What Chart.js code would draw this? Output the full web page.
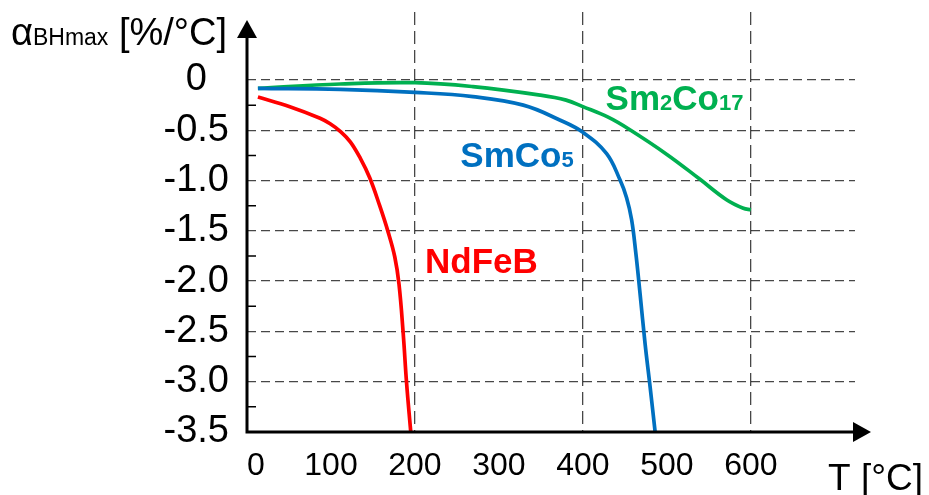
<!DOCTYPE html>
<html>
<head>
<meta charset="utf-8">
<script src="https://cdn.jsdelivr.net/npm/chart.js@4.4.0/dist/chart.umd.min.js"></script>
<style>
  html, body { margin: 0; padding: 0; background: #fff; }
</style>
</head>
<body>
<canvas id="alphaChart" width="929" height="495"></canvas>
<script>
// Temperature coefficient of (BH)max vs temperature
const ndfebT     = [13, 51, 87, 99, 111, 123, 135, 146, 158, 168, 176, 181, 186, 190, 195];
const ndfebAlpha = [-0.17, -0.265, -0.38, -0.435, -0.51, -0.615, -0.78, -0.97, -1.25, -1.51, -1.76, -2.03, -2.52, -3.01, -3.5];

const smco5T     = [13, 111, 200, 269, 329, 373, 400, 428, 444, 452, 458, 463, 468, 474, 480, 486];
const smco5Alpha = [-0.083, -0.093, -0.123, -0.165, -0.25, -0.40, -0.52, -0.73, -0.99, -1.17, -1.39, -1.72, -2.12, -2.62, -3.05, -3.5];

const sm2co17T     = [13, 111, 200, 269, 349, 380, 400, 430, 455, 500, 539, 571, 591, 600];
const sm2co17Alpha = [-0.083, -0.04, -0.027, -0.066, -0.15, -0.20, -0.265, -0.37, -0.49, -0.74, -0.985, -1.19, -1.275, -1.29];

const xGridAt = [200, 400, 600];
const yMinorTicks = [-0.25, -0.75, -1.25, -1.75, -2.25, -2.75, -3.25];
const yMin = -3.5;
const yMax = 0.676;
const xMax = 724;

const gridColor = 'rgba(0,0,0,0.72)';
const FONT = '"Liberation Sans", Arial, sans-serif';

function toPoints(xs, ys) {
  return xs.map((x, i) => ({ x: x, y: ys[i] }));
}

// text with subscript parts, e.g. Sm2Co17
function drawParts(ctx, parts, x, y, color) {
  ctx.fillStyle = color;
  ctx.textBaseline = 'alphabetic';
  ctx.textAlign = 'left';
  parts.forEach(p => {
    ctx.font = p.font;
    ctx.fillText(p.t, x, y);
    x += ctx.measureText(p.t).width;
  });
}

const decorations = {
  id: 'decorations',
  afterDatasetsDraw(chart) {
    const ctx = chart.ctx;
    const xs = chart.scales.x, ys = chart.scales.y;
    const big = 'bold 35px ' + FONT, small = 'bold 22px ' + FONT;
    ctx.save();
    drawParts(ctx, [{ t: 'NdFeB', font: big }],
      xs.getPixelForValue(212), ys.getPixelForValue(-1.92), '#ff0000');
    drawParts(ctx, [{ t: 'SmCo', font: big }, { t: '5', font: small }],
      xs.getPixelForValue(254), ys.getPixelForValue(-0.865), '#0070c0');
    drawParts(ctx, [{ t: 'Sm', font: big }, { t: '2', font: small }, { t: 'Co', font: big }, { t: '17', font: small }],
      xs.getPixelForValue(427), ys.getPixelForValue(-0.298), '#00b050');
    ctx.restore();
  },
  afterDraw(chart) {
    const ctx = chart.ctx;
    const area = chart.chartArea;
    const xs = chart.scales.x, ys = chart.scales.y;
    const x0 = xs.getPixelForValue(0);
    const yB = ys.getPixelForValue(yMin);
    ctx.save();
    ctx.strokeStyle = '#000';
    ctx.fillStyle = '#000';
    ctx.lineWidth = 3;

    // axes with arrow heads
    const yTip = area.top + 8, xTip = area.right + 16;
    ctx.beginPath();
    ctx.moveTo(x0, yB + 1.5);
    ctx.lineTo(x0, yTip + 16);
    ctx.moveTo(x0 - 1.5, yB);
    ctx.lineTo(xTip - 16, yB);
    ctx.stroke();
    ctx.beginPath();
    ctx.moveTo(x0, yTip);
    ctx.lineTo(x0 - 10, yTip + 18);
    ctx.lineTo(x0 + 10, yTip + 18);
    ctx.closePath();
    ctx.fill();
    ctx.beginPath();
    ctx.moveTo(xTip, yB);
    ctx.lineTo(xTip - 18, yB - 10);
    ctx.lineTo(xTip - 18, yB + 10);
    ctx.closePath();
    ctx.fill();

    // short inward minor ticks on the y axis
    ctx.lineWidth = 1.5;
    ctx.beginPath();
    yMinorTicks.forEach(v => {
      const p = ys.getPixelForValue(v);
      ctx.moveTo(x0, p);
      ctx.lineTo(x0 + 9, p);
    });
    ctx.stroke();

    // axis titles
    drawParts(ctx, [
      { t: 'α', font: '38px ' + FONT },
      { t: 'BHmax', font: '23px ' + FONT },
      { t: ' [%/°C]', font: '38px ' + FONT }
    ], 11, 45, '#000');
    drawParts(ctx, [{ t: 'T [°C]', font: '37px ' + FONT }], 828, 490, '#000');
    ctx.restore();
  }
};

const lineStyle = {
  borderWidth: 3.7,
  pointRadius: 0,
  fill: false,
  tension: 0.4
};

new Chart(document.getElementById('alphaChart').getContext('2d'), {
  type: 'line',
  data: {
    datasets: [
      Object.assign({ label: 'NdFeB', data: toPoints(ndfebT, ndfebAlpha), borderColor: '#ff0000' }, lineStyle),
      Object.assign({ label: 'SmCo5', data: toPoints(smco5T, smco5Alpha), borderColor: '#0070c0' }, lineStyle),
      Object.assign({ label: 'Sm2Co17', data: toPoints(sm2co17T, sm2co17Alpha), borderColor: '#00b050' }, lineStyle)
    ]
  },
  options: {
    responsive: false,
    animation: false,
    devicePixelRatio: 1,
    layout: { padding: { top: 12, right: 74, left: 0, bottom: 0 } },
    plugins: {
      legend: { display: false },
      tooltip: { enabled: false }
    },
    scales: {
      x: {
        type: 'linear',
        min: 0,
        max: xMax,
        afterFit: function(scale) {
          scale.height = 63;
          scale.paddingLeft = 0;
          scale.paddingRight = 0;
        },
        border: { display: false, dash: [13, 6] },
        grid: {
          drawTicks: false,
          lineWidth: 1.3,
          color: ctx => xGridAt.includes(ctx.tick.value) ? gridColor : 'transparent'
        },
        ticks: {
          stepSize: 100,
          autoSkip: false,
          maxRotation: 0,
          padding: 15,
          color: '#000',
          font: { family: FONT, size: 32 },
          callback: v => v > 600 ? '' : (v === 0 ? '  0' : String(v))
        }
      },
      y: {
        type: 'linear',
        min: yMin,
        max: yMax,
        afterFit: function(scale) {
          scale.width = 247;
          scale.paddingTop = 0;
          scale.paddingBottom = 0;
        },
        border: { display: false, dash: [9, 5] },
        grid: {
          drawTicks: false,
          lineWidth: 1.3,
          color: ctx => (ctx.tick.value > 0.01 || ctx.tick.value < -3.49) ? 'transparent' : gridColor
        },
        ticks: {
          stepSize: 0.5,
          padding: 18,
          crossAlign: 'center',
          color: '#000',
          font: { family: FONT, size: 38 },
          callback: v => v > 0.01 ? '' : (Math.abs(v) < 1e-9 ? '0' : v.toFixed(1))
        }
      }
    }
  },
  plugins: [decorations]
});
</script>
</body>
</html>
